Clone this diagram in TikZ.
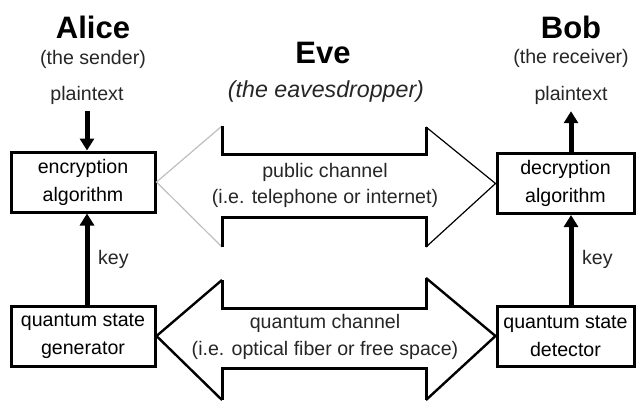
\documentclass[tikz,border=0pt]{standalone}
\usepackage{fontspec}
\setmainfont{Liberation Sans}
\usepackage{tikz}
\usetikzlibrary{positioning, arrows.meta, calc}

\begin{document}
\begin{tikzpicture}[x=0.5pt, y=-0.5pt,
        box/.style={draw, line width=1.5pt, minimum height=30pt, inner sep=0pt, align=center,
                    font=\fontsize{9.8}{14}\selectfont},
        label/.style={align=center, text=black!85, font=\fontsize{9.8}{13}\selectfont},
        party/.style={font=\fontsize{15.5}{18}\selectfont\bfseries},
        flow/.style={line width=2.5pt, -{Triangle[length=6pt, width=7pt]}},
        shaft/.style={line width=1.5pt},
        head/.style={line width=0.6pt}]
    \useasboundingbox (0,0) rectangle (636,401);

    % people
    \node[party]                (alice)  at (93,27)   {Alice};
    \node[label]                (sender) at (93,59)   {(the sender)};
    \node[label]                (ptA)    at (87,95)   {plaintext};
    \node[party]                (eve)    at (323,53)  {Eve};
    \node[label, font=\fontsize{11.6}{14}\selectfont\itshape]
                                (evesub) at (326,92)  {(the eavesdropper)};
    \node[party]                (bob)    at (571,27)  {Bob};
    \node[label]                (receiver) at (571,58) {(the receiver)};
    \node[label]                (ptB)    at (571,95)  {plaintext};

    % boxes
    \node[box, minimum width=72pt]   (enc) at (83,182)    {encryption\\algorithm};
    \node[box, minimum width=72pt]   (gen) at (83,336)    {quantum state\\generator};
    \node[box, minimum width=68.5pt] (dec) at (565.5,183.5) {decryption\\algorithm};
    \node[box, minimum width=68.5pt] (det) at (565.5,336)  {quantum state\\detector};

    % plaintext and key arrows
    \draw[flow] (ptA.south) -- (ptA |- enc.north);
    \draw[flow] (ptA |- gen.north) -- (ptA |- enc.south) node[midway, right=1pt, label] (keyA) {key};
    \draw[flow] (ptB |- dec.north) -- (ptB.south);
    \draw[flow] (ptB |- det.north) -- (ptB |- dec.south) node[midway, right=1pt, label] (keyB) {key};

    % public channel
    \draw[head, black!25] (222,126) -- (enc.east) -- (222,247);
    \draw[shaft] (222,126) -- (222,154) -- (426,154) -- (426,127);
    \draw[shaft] (222,247) -- (222,217) -- (426,217) -- (426,247);
    \draw[head] (426,127) -- (dec.west) -- (426,247);
    \node[label] (pub) at (325,185) {public channel\\(i.e. telephone or internet)};

    % quantum channel
    \draw[line width=1.2pt] (222,280) -- (gen.east) -- (222,400);
    \draw[shaft] (222,280) -- (222,308) -- (426,308) -- (426,278);
    \draw[shaft] (222,400) -- (222,368) -- (426,368) -- (426,400);
    \draw[line width=1.2pt] (426,278) -- (det.west) -- (426,400);
    \node[label, font=\fontsize{9.8}{13.5}\selectfont] (qch) at (325,337) {quantum channel\\(i.e. optical fiber or free space)};
\end{tikzpicture}
\end{document}
